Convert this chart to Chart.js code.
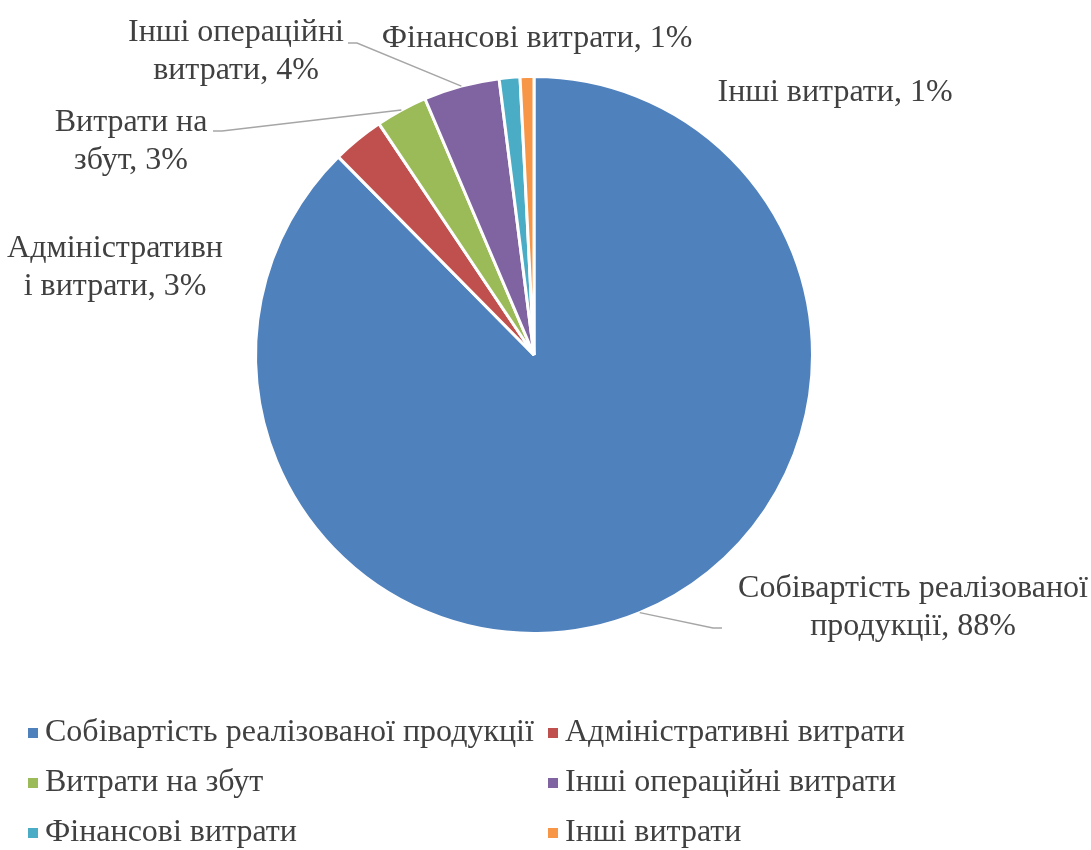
<!DOCTYPE html>
<html>
<head>
<meta charset="utf-8">
<script src="https://cdn.jsdelivr.net/npm/chart.js@4/dist/chart.umd.min.js"></script>
<style>
  html, body { margin: 0; background: #fff; }
  #wrap { width: 1091px; height: 850px; position: relative; }
</style>
</head>
<body>
<div id="wrap"><canvas id="costChart"></canvas></div>
<script>
// data
const categories = [
  "Собівартість реалізованої продукції",
  "Адміністративні витрати",
  "Витрати на збут",
  "Інші операційні витрати",
  "Фінансові витрати",
  "Інші витрати",
];
const shares = [87.6, 3.0, 3.0, 4.4, 1.2, 0.8];
const colors = ["#4F81BD", "#C0504D", "#9BBB59", "#8064A2", "#4BACC6", "#F79646"];

// where each data label line breaks (char index in "name, pct%"), null = one line
const labelBreaks = [26, 14, 11, 16, null, null];
// label placement (centre of first text line) and optional leader elbow
const labelPlace = [
  { x: 913, y: 589, leader: { x: 722, y: 628, dir: -1 } },
  { x: 115, y: 249 },
  { x: 131, y: 123, leader: { x: 213, y: 131, dir: 1 } },
  { x: 236, y: 33, leader: { x: 348, y: 43, dir: 1 } },
  { x: 537, y: 39 },
  { x: 835, y: 93 },
];

const FONT = '32px "Liberation Serif", "Times New Roman", serif';
const TEXT_COLOR = "#404040";
const LINE_GAP = 38;

const total = shares.reduce((a, b) => a + b, 0);

const labelPlugin = {
  id: "pieLabels",
  afterDatasetsDraw(chart) {
    const ctx = chart.ctx;
    const meta = chart.getDatasetMeta(0);
    ctx.save();
    meta.data.forEach((arc, i) => {
      const place = labelPlace[i];
      const mid = (arc.startAngle + arc.endAngle) / 2;
      const ax = arc.x + Math.cos(mid) * arc.outerRadius;
      const ay = arc.y + Math.sin(mid) * arc.outerRadius;

      if (place.leader) {
        const l = place.leader;
        ctx.strokeStyle = "#A6A6A6";
        ctx.lineWidth = 1.5;
        ctx.beginPath();
        ctx.moveTo(l.x, l.y);
        ctx.lineTo(l.x + l.dir * 9, l.y);
        ctx.lineTo(ax, ay);
        ctx.stroke();
      }

      const pct = Math.round((shares[i] / total) * 100);
      const full = `${categories[i]}, ${pct}%`;
      const br = labelBreaks[i];
      const lines = br ? [full.slice(0, br).trim(), full.slice(br).trim()] : [full];

      ctx.font = FONT;
      ctx.fillStyle = TEXT_COLOR;
      ctx.textAlign = "center";
      ctx.textBaseline = "middle";
      lines.forEach((t, k) => ctx.fillText(t, place.x, place.y + k * LINE_GAP));
    });
    ctx.restore();
  },
};

// two-column legend under the pie
const legendPlugin = {
  id: "gridLegend",
  afterDraw(chart) {
    const ctx = chart.ctx;
    const colX = [28, 548];
    const rowY = [733, 783, 833];
    ctx.save();
    ctx.font = FONT;
    ctx.textAlign = "left";
    ctx.textBaseline = "middle";
    categories.forEach((name, i) => {
      const x = colX[i % 2];
      const y = rowY[Math.floor(i / 2)];
      ctx.fillStyle = colors[i];
      ctx.fillRect(x, y - 5, 10, 10);
      ctx.fillStyle = TEXT_COLOR;
      ctx.fillText(name, x + 17, y);
    });
    ctx.restore();
  },
};

new Chart(document.getElementById("costChart"), {
  type: "pie",
  data: {
    labels: categories,
    datasets: [
      {
        data: shares,
        backgroundColor: colors,
        borderColor: "#ffffff",
        borderWidth: 3,
      },
    ],
  },
  options: {
    responsive: true,
    maintainAspectRatio: false,
    animation: false,
    layout: { padding: { top: 75, bottom: 215, left: 0, right: 23 } },
    plugins: {
      legend: { display: false },
      tooltip: { enabled: false },
    },
  },
  plugins: [labelPlugin, legendPlugin],
});
</script>
</body>
</html>
